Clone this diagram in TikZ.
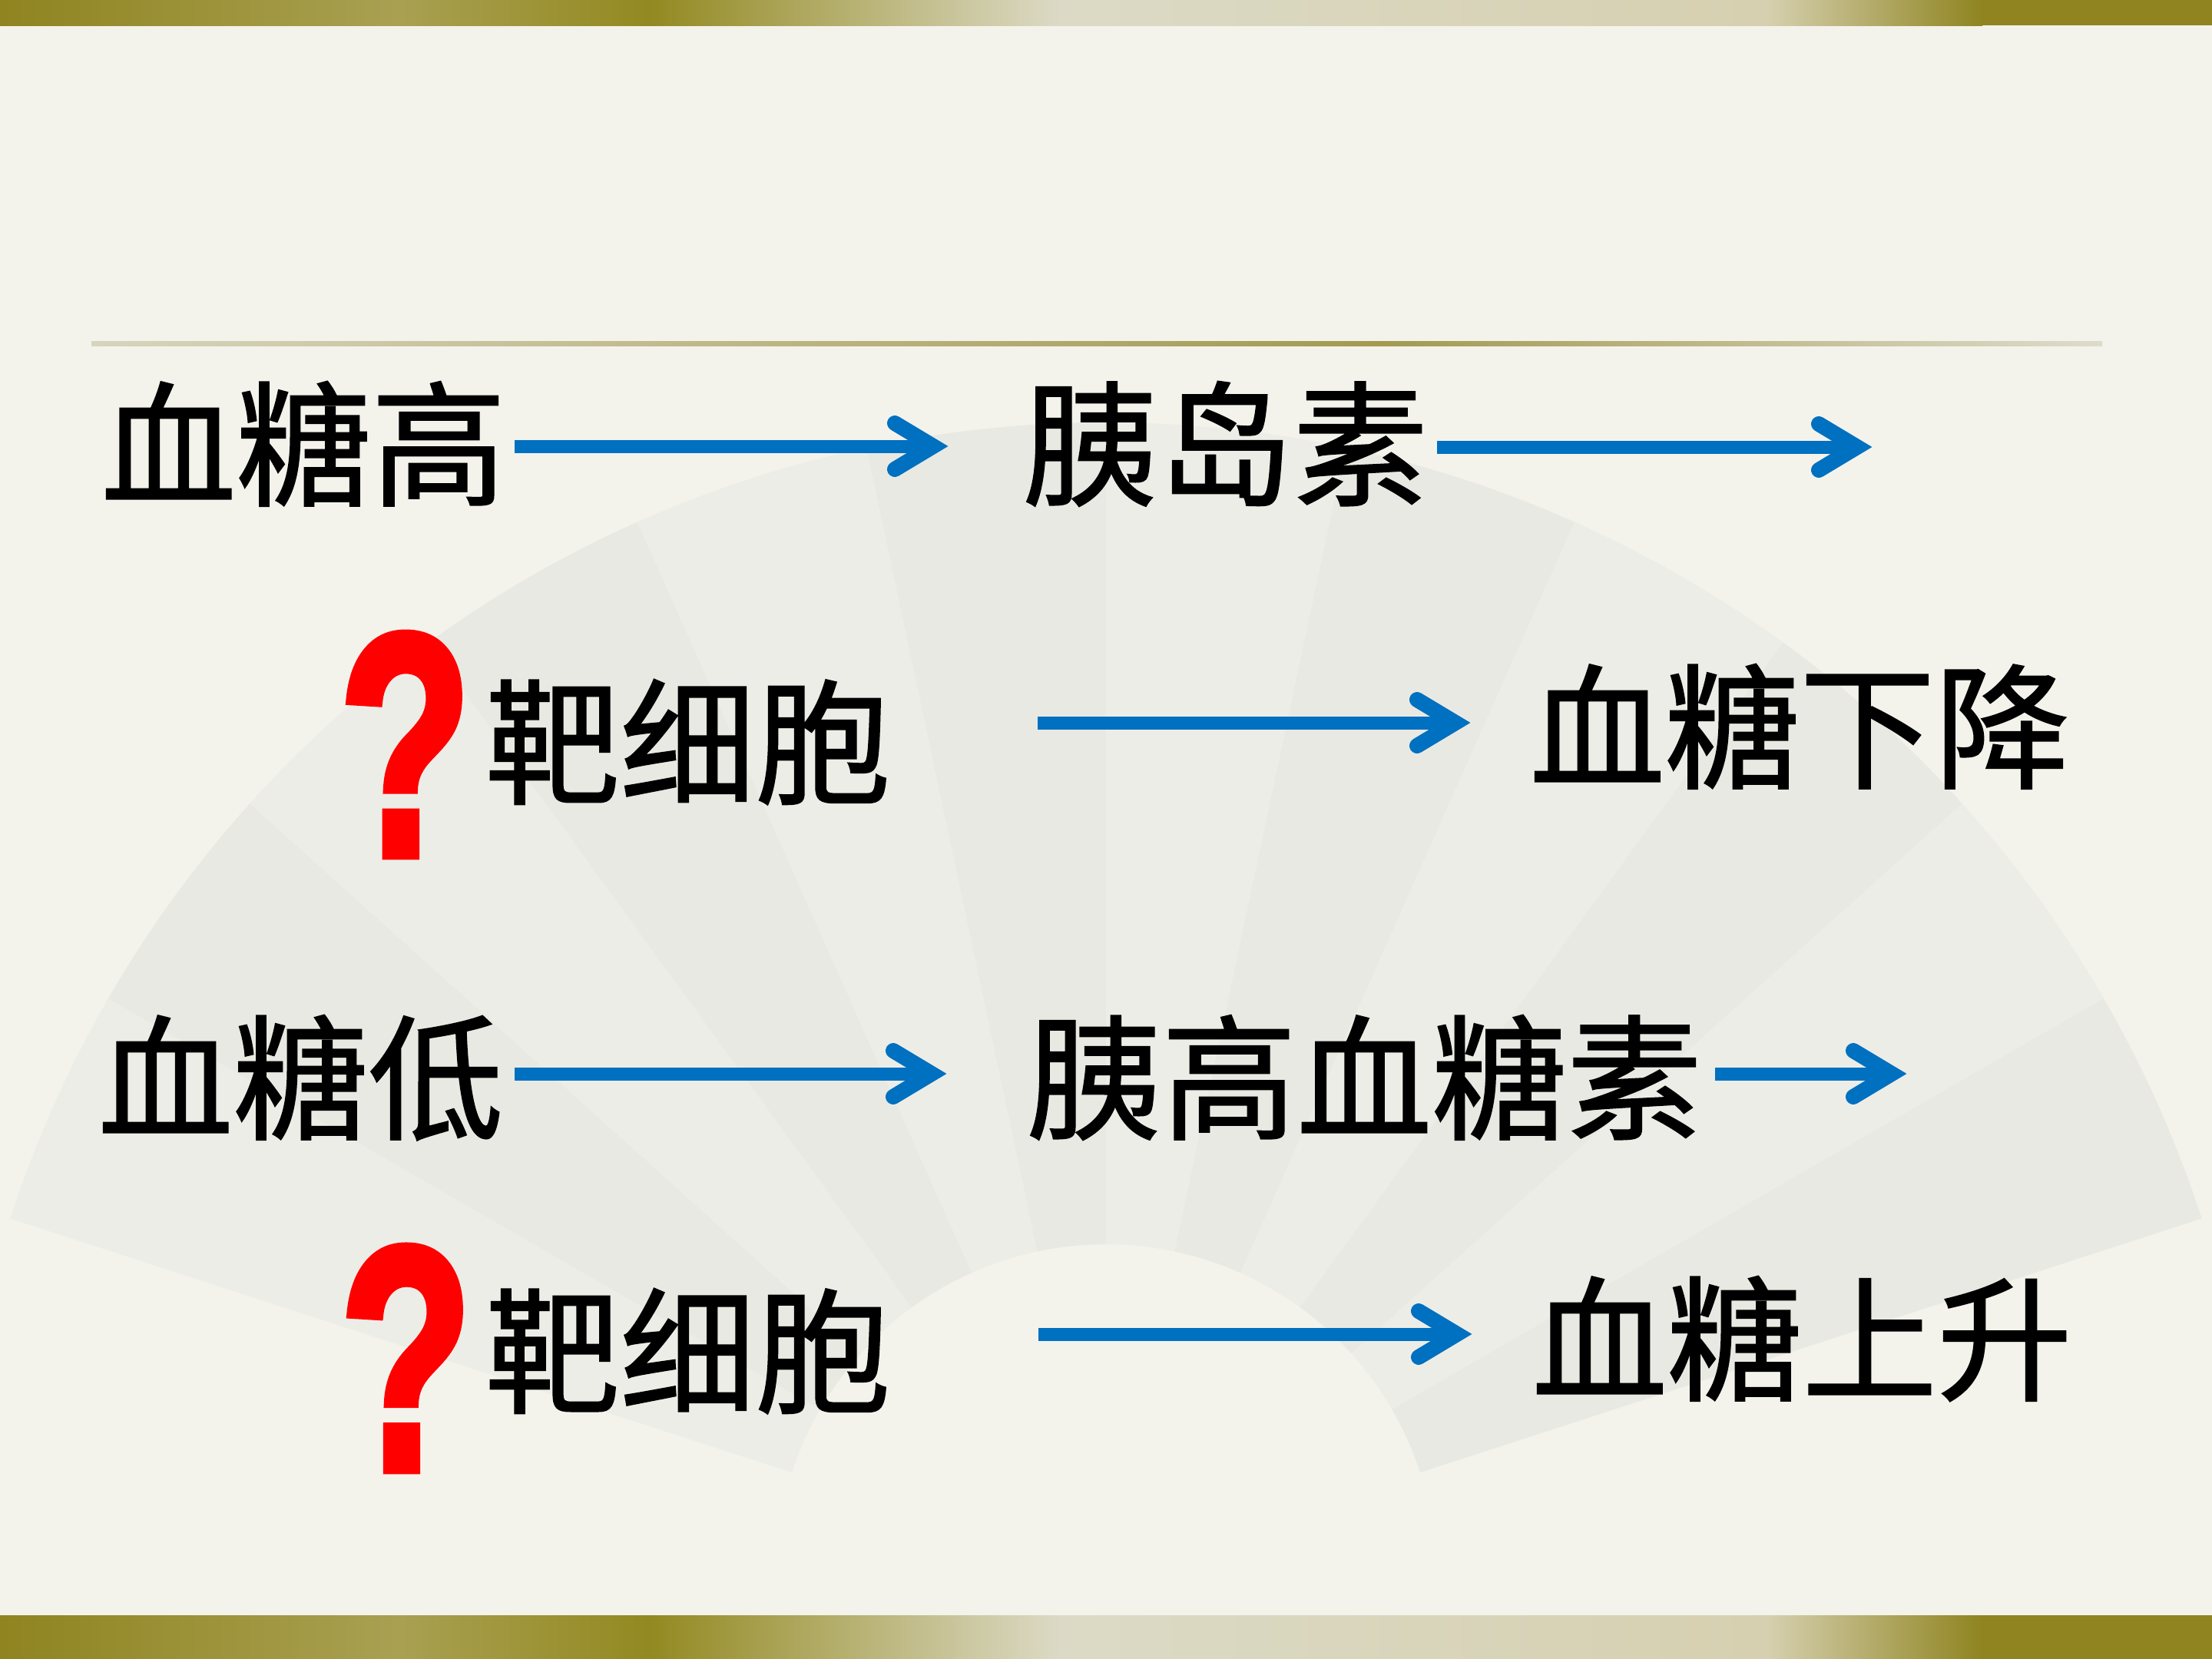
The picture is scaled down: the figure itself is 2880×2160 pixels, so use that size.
\documentclass[tikz,border=0pt]{standalone}
\usepackage{fontspec}
\usetikzlibrary{calc}
\newfontfamily\cjk{Noto Sans CJK SC}[FakeBold=1.2]
\newfontfamily\qfont{Liberation Sans}[BoldFeatures={FakeBold=3}]
\definecolor{bg}{HTML}{F3F3EC}
\definecolor{olive}{HTML}{8F8420}
\definecolor{oliveL}{HTML}{A9A052}
\definecolor{oliveM}{HTML}{938921}
\definecolor{creamA}{HTML}{DCDAC6}
\definecolor{creamB}{HTML}{D6D0B0}
\definecolor{ruleL}{HTML}{D8D4BC}
\definecolor{ruleM}{HTML}{A39A50}
\definecolor{ruleR}{HTML}{DEDBCB}
\definecolor{fanA}{HTML}{E9E9E3}
\definecolor{fanB}{HTML}{EDEDE7}
\definecolor{arrblue}{HTML}{0070C0}
\definecolor{qred}{HTML}{FF0000}
\tikzset{
  lbl/.style={font=\cjk\fontsize{50}{60}\selectfont, inner sep=0pt, anchor=base west, text=black},
  qm/.style={inner sep=0pt, anchor=north west, text=qred},
  shaft/.style={draw=arrblue, line width=0.17cm, line cap=butt},
  barb/.style={draw=arrblue, line width=0.20cm, line cap=round, line join=miter},
}
\newcommand\bluearrow[2]{%
  \draw[shaft] (#1) -- ([shift={(-20,0)}]#2);
  \draw[barb] ([shift={(-70,-30)}]#2) -- ([shift={(-20,0)}]#2) -- ([shift={(-70,30)}]#2);
}
\begin{document}
\begin{tikzpicture}[x=0.01cm, y=-0.01cm]
\useasboundingbox (0,0) rectangle (2880,2160);
\fill[bg] (0,0) rectangle (2880,2160);
% fan background
\coordinate (C) at (1440,2050);
\foreach \i in {0,...,11}{
  \pgfmathsetmacro\a{-162+12*\i}
  \pgfmathsetmacro\b{-150+12*\i}
  \ifodd\i \def\fc{fanA}\else\def\fc{fanB}\fi
  \fill[\fc] ($(C)+(\a:430)$) -- ($(C)+(\a:1500)$)
    arc[start angle=\a, end angle=\b, radius=1500]
    -- ($(C)+(\b:430)$) arc[start angle=\b, end angle=\a, radius=430] -- cycle;
}
% top and bottom bars
\foreach \ya/\yb in {0/33, 2103/2160}{
  \shade[left color=olive, right color=oliveL] (0,\ya) rectangle (521,\yb);
  \shade[left color=oliveL, right color=oliveM] (520,\ya) rectangle (846,\yb);
  \shade[left color=oliveM, right color=creamA] (845,\ya) rectangle (1381,\yb);
  \shade[left color=creamA, right color=creamB] (1380,\ya) rectangle (2301,\yb);
  \shade[left color=creamB, right color=olive] (2300,\ya) rectangle (2581,\yb);
  \fill[olive] (2580,\ya) rectangle (2880,\yb);
}
% rule
\shade[left color=ruleL, right color=ruleM] (119,444) rectangle (1801,450);
\shade[left color=ruleM, right color=ruleR] (1800,444) rectangle (2737,450);
% texts
\node[lbl] (t1) at (131,645) {血糖高};
\node[lbl] (t2) at (1331,645) {胰岛素};
\node[lbl] (t3) at (631,1033) {靶细胞};
\node[lbl] (t4) at (1991,1013) {血糖下降};
\node[lbl] (t5) at (127,1470) {血糖低};
\node[lbl] (t6) at (1336,1470) {胰高血糖素};
\node[lbl] (t7) at (631,1826) {靶细胞};
\node[lbl] (t8) at (1994,1810) {血糖上升};
\node[qm] (q1) at (441,825) {\resizebox{1.72cm}{2.87cm}{\qfont\bfseries ?}};
\node[qm] (q2) at (442,1623) {\resizebox{1.72cm}{2.89cm}{\qfont\bfseries ?}};
% arrows
\coordinate (a1s) at (670,581);  \coordinate (a1e) at (1235,581);
\coordinate (a2s) at (1871,582); \coordinate (a2e) at (2438,582);
\coordinate (a3s) at (1351,941); \coordinate (a3e) at (1915,941);
\coordinate (a4s) at (670,1398); \coordinate (a4e) at (1233,1398);
\coordinate (a5s) at (2233,1398); \coordinate (a5e) at (2483,1398);
\coordinate (a6s) at (1352,1737); \coordinate (a6e) at (1917,1737);
\bluearrow{a1s}{a1e}
\bluearrow{a2s}{a2e}
\bluearrow{a3s}{a3e}
\bluearrow{a4s}{a4e}
\bluearrow{a5s}{a5e}
\bluearrow{a6s}{a6e}
\end{tikzpicture}
\end{document}
